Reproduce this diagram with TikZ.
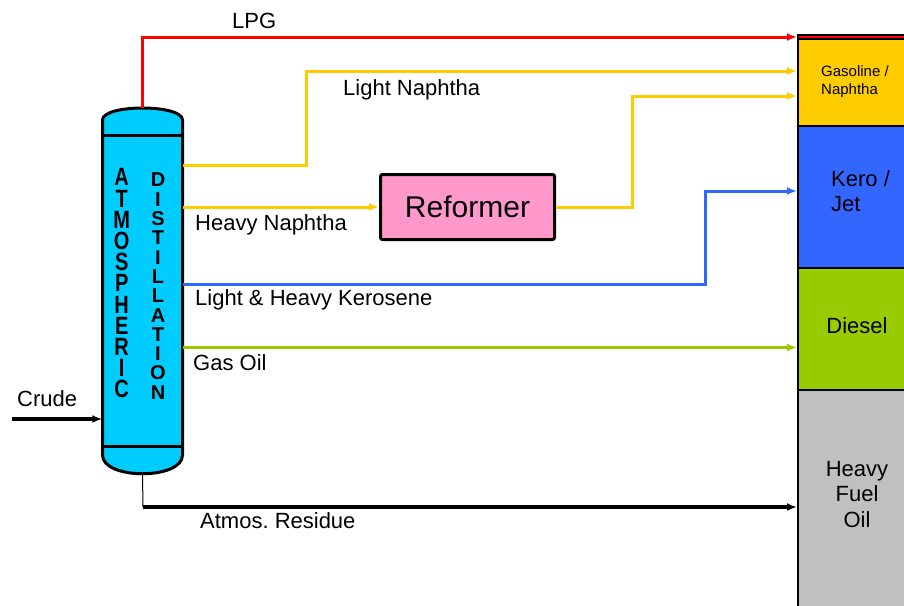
\documentclass[tikz,border=0pt]{standalone}
\usepackage{fontspec}
\setmainfont{Liberation Sans}
\usetikzlibrary{arrows.meta}

\definecolor{colcyan}{RGB}{0,204,255}
\definecolor{lpgred}{RGB}{255,0,0}
\definecolor{gasyellow}{RGB}{255,204,0}
\definecolor{keroblue}{RGB}{51,102,255}
\definecolor{dieselgreen}{RGB}{153,204,0}
\definecolor{fuelgray}{RGB}{192,192,192}
\definecolor{refpink}{RGB}{255,153,204}

\begin{document}
\begin{tikzpicture}[x=1pt, y=-1pt,
  stream/.style={line width=3pt, -{Latex[length=10pt,width=8pt]}},
  thickstream/.style={line width=3.5pt, -{Latex[length=10pt,width=8pt]}},
  lbl/.style={font=\fontsize{22}{25.5}\selectfont, inner sep=0pt, anchor=base west},
  colfont/.style={inner sep=0pt, anchor=north}]
  \useasboundingbox (0,0) rectangle (904,605);
  \fill[white] (0,0) rectangle (904,605);

  % Product bar
  \foreach \seg/\clr/\ya/\yb in {hfo/fuelgray/389/625, diesel/dieselgreen/267/389, kero/keroblue/125/267, gas/gasyellow/38/125} {
    \node[draw, line width=2pt, fill=\clr, minimum width=120pt, minimum height={\yb-\ya}, inner sep=0pt, anchor=north west] (\seg) at (797,\ya) {};
  }
  \node[draw, line width=2pt, fill=lpgred, minimum width=120pt, minimum height=4pt, inner sep=0pt, anchor=north west] (lpg) at (797,34) {};

  \node[lbl, font=\fontsize{15}{18}\selectfont, anchor=north west, align=left] (gasTxt) at (821,65) {Gasoline /\\Naphtha};
  \node[lbl, anchor=north west, align=left] (keroTxt) at (831,170) {Kero /\\Jet};
  \node[lbl, anchor=base] (dieselTxt) at (857,333) {Diesel};
  \node[lbl, anchor=north, align=center] (hfoTxt) at (857,461) {Heavy\\Fuel\\Oil};

  % Column
  \node[minimum width=80pt, minimum height=366pt, inner sep=0pt] (col) at (142.5,291) {};
  \filldraw[fill=colcyan, line width=3pt] (102.5,455) -- (102.5,120)
    .. controls (102.5,104) and (182.5,104) .. (182.5,120) -- (182.5,455)
    .. controls (182.5,480) and (102.5,480) .. (102.5,455) -- cycle;
  \draw[line width=3pt] (102.5,135) -- (182.5,135) (102.5,446) -- (182.5,446);
  \node[colfont] (atmTxt) at (121.7,168.5) {\scalebox{0.8}[1]{\parbox[t]{30pt}{\centering\fontsize{25}{21.2}\selectfont\bfseries
    A\\T\\M\\O\\S\\P\\H\\E\\R\\I\\C}}};
  \node[colfont] (distTxt) at (158,173) {\parbox[t]{30pt}{\centering\fontsize{20}{19.3}\selectfont\bfseries
    D\\I\\S\\T\\I\\L\\L\\A\\T\\I\\O\\N}};

  % Reformer
  \node[draw, line width=3pt, fill=refpink, rounded corners=2pt, minimum width=174pt, minimum height=65pt, font=\fontsize{30}{36}\selectfont] (ref) at (467.5,207) {Reformer};

  % Streams
  \draw[stream, lpgred] (col.north) |- (lpg.west);
  \draw[stream, gasyellow] (col.east |- 0,165) -| (306,71) -- (gas.west |- 0,71);
  \draw[stream, gasyellow] (col.east |- ref.west) -- (ref.west);
  \draw[stream, gasyellow] (ref.east) -| (632,96) -- (gas.west |- 0,96);
  \draw[stream, keroblue] (col.east |- 0,284) -| (705,191) -- (kero.west |- 0,191);
  \draw[stream, dieselgreen] (col.east |- 0,347.5) -- (diesel.west |- 0,347.5);
  \coordinate (resTurn) at (143,507);
  \draw[line width=1pt] (col.south) -- (resTurn);
  \draw[thickstream] (resTurn) -- (hfo.west |- resTurn);
  \coordinate (crudeIn) at (12,419);
  \draw[thickstream] (crudeIn) -- (col.west |- crudeIn);

  % Labels
  \node[lbl] (lpgLbl) at (232,28) {LPG};
  \node[lbl] (lnLbl) at (343,95) {Light Naphtha};
  \node[lbl] (hnLbl) at (195,230) {Heavy Naphtha};
  \node[lbl] (keroLbl) at (195,305) {Light \& Heavy Kerosene};
  \node[lbl] (goLbl) at (193,370) {Gas Oil};
  \node[lbl] (crudeLbl) at (17,406) {Crude};
  \node[lbl] (resLbl) at (200,528) {Atmos.\ Residue};
\end{tikzpicture}
\end{document}
